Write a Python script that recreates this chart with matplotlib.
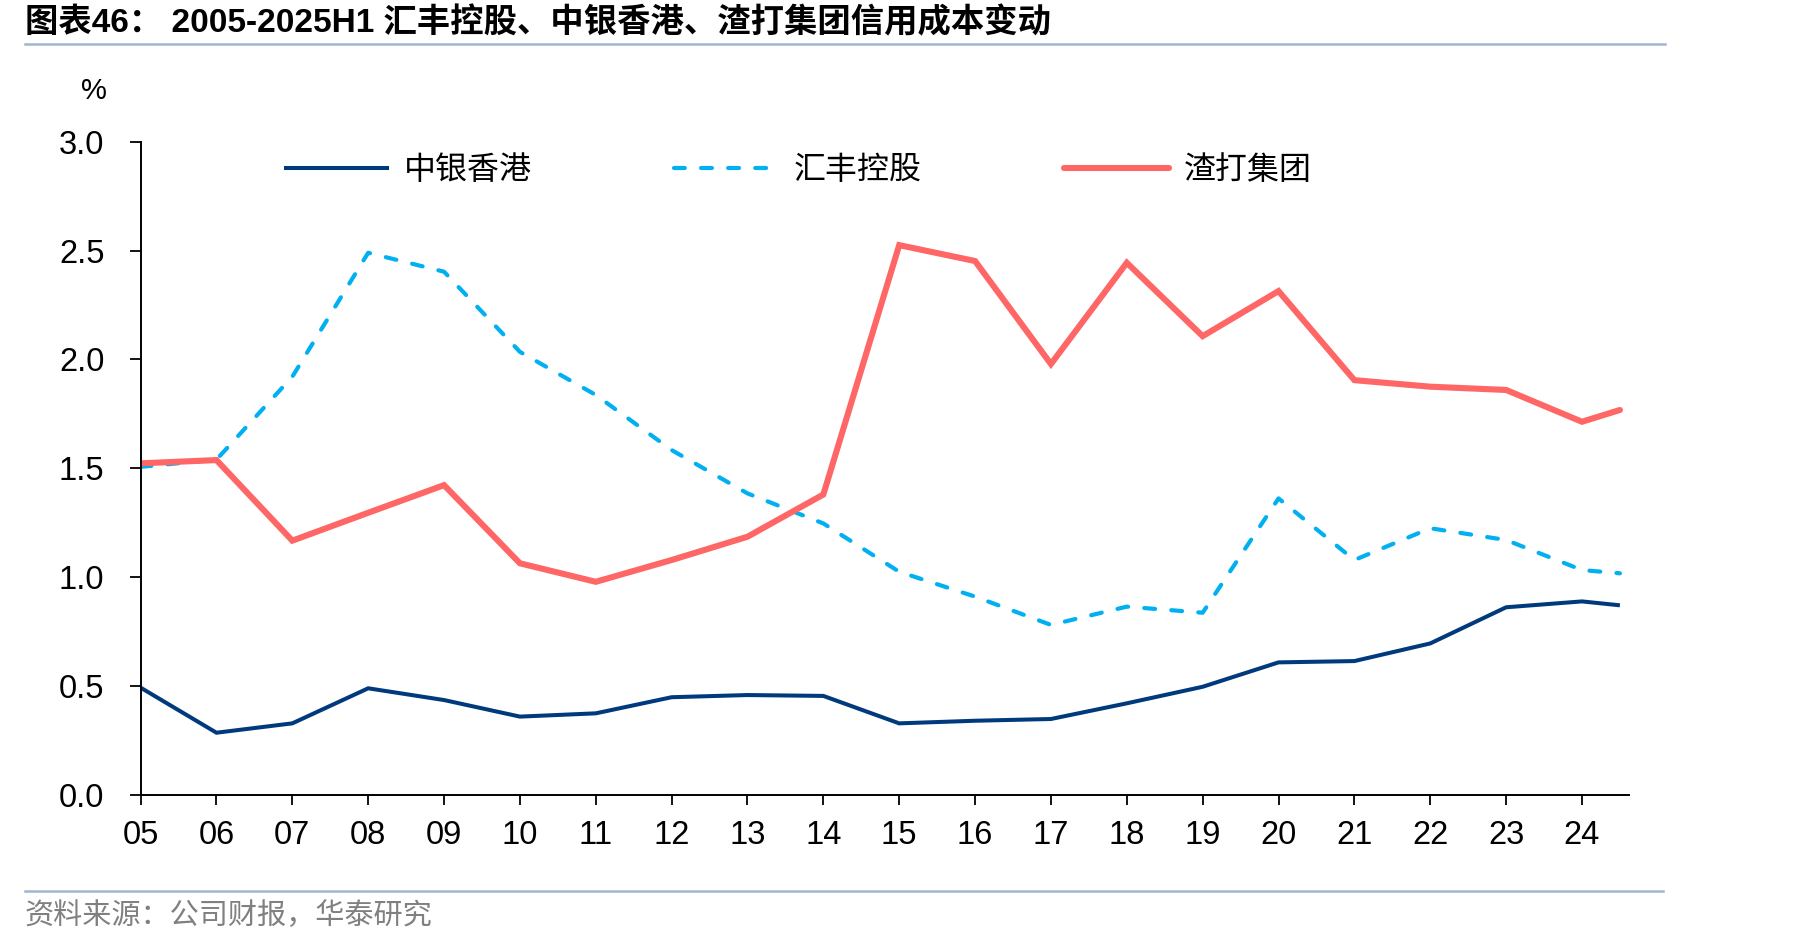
import matplotlib
matplotlib.use("Agg")
import matplotlib.pyplot as plt
from matplotlib.lines import Line2D

plt.rcParams['font.family'] = ['Liberation Sans', 'Noto Sans CJK SC', 'DejaVu Sans']

# ---------------- data ----------------
x_labels = ['05', '06', '07', '08', '09', '10', '11', '12', '13', '14',
            '15', '16', '17', '18', '19', '20', '21', '22', '23', '24']
x_pos = [0, 1, 2, 3, 4, 5, 6, 7, 8, 9, 10, 11, 12, 13, 14, 15, 16, 17, 18, 19, 19.5]  # last = 2025H1

boc_hk = [0.493, 0.286, 0.329, 0.490, 0.436, 0.360, 0.375, 0.449, 0.459, 0.455,
          0.329, 0.341, 0.349, 0.421, 0.497, 0.609, 0.615, 0.696, 0.862, 0.889, 0.871]
hsbc = [1.507, 1.540, 1.921, 2.490, 2.403, 2.035, 1.837, 1.584, 1.385, 1.247,
        1.025, 0.911, 0.781, 0.865, 0.837, 1.362, 1.079, 1.225, 1.171, 1.033, 1.018]
stanchart = [1.523, 1.538, 1.168, 1.296, 1.423, 1.064, 0.979, 1.079, 1.186, 1.380,
             2.525, 2.452, 1.979, 2.444, 2.107, 2.314, 1.905, 1.875, 1.860, 1.714, 1.768]

series_names = ['中银香港', '汇丰控股', '渣打集团']
y_ticks = [0.0, 0.5, 1.0, 1.5, 2.0, 2.5, 3.0]

title = '图表46： 2005-2025H1 汇丰控股、中银香港、渣打集团信用成本变动'
source = '资料来源：公司财报，华泰研究'

# ---------------- figure ----------------
W, H = 1819, 946
fig = plt.figure(figsize=(W / 100, H / 100), dpi=100)
ax = fig.add_axes([140.6 / W, 1 - 795 / H, (1629 - 140.6) / W, (795 - 141.7) / H])

navy = '#003A7D'
sky = '#00B0F0'
coral = '#FF6666'

l1, = ax.plot(x_pos, boc_hk, color=navy, lw=2.9, solid_joinstyle='miter', solid_capstyle='butt')
l2, = ax.plot(x_pos, hsbc, color=sky, lw=3.0, dashes=(2.6, 3.9), dash_capstyle='round')
l3, = ax.plot(x_pos, stanchart, color=coral, lw=4.4, solid_joinstyle='miter', solid_capstyle='round')

ax.set_xlim(0, 19.62)
ax.set_ylim(0, 3.0)
ax.set_yticks(y_ticks)
ax.set_yticklabels([f'{v:.1f}' for v in y_ticks])
ax.set_xticks(list(range(len(x_labels))))
ax.set_xticklabels(x_labels)

for s in ['top', 'right']:
    ax.spines[s].set_visible(False)
for s in ['left', 'bottom']:
    ax.spines[s].set_linewidth(1.4)
    ax.spines[s].set_color('black')

ax.tick_params(axis='y', direction='out', length=8, width=1.3, pad=18, labelsize=23.5)
ax.tick_params(axis='x', direction='out', length=7, width=1.3, pad=11, labelsize=23.5)

# % label
fig.text(94 / W, 1 - 91 / H, '%', ha='center', va='center', fontsize=21)

# legend
leg = ax.legend([l1, l2, l3], series_names, ncol=3, frameon=False,
                loc='center left', bbox_to_anchor=(283.7 / W, 1 - 170.5 / H),
                bbox_transform=fig.transFigure, borderpad=0, borderaxespad=0,
                handlelength=3.3, handletextpad=0.45, columnspacing=4.45,
                prop={'family': ['Noto Sans CJK SC'], 'size': 23})

# title
fig.text(25 / W, 1 - 23.5 / H, title, ha='left', va='center', fontsize=24, fontweight='bold')
fig.add_artist(Line2D([25 / W, 1665 / W], [1 - 44 / H, 1 - 44 / H], color='#A3B4D1', lw=1.8))

# source
fig.add_artist(Line2D([25 / W, 1663 / W], [1 - 891 / H, 1 - 891 / H], color='#A3B4D1', lw=1.8))
fig.text(25 / W, 1 - 916 / H, source, ha='left', va='center', fontsize=21,
         color='#808080', family=['Noto Sans CJK SC'])

fig.savefig('out.png', dpi=100)
